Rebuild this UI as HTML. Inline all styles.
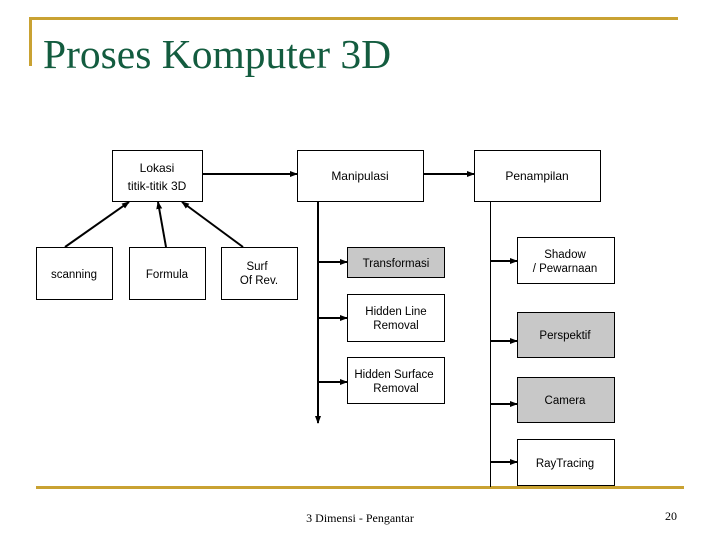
<!DOCTYPE html>
<html><head><meta charset="utf-8"><style>
body{margin:0;width:720px;height:540px;background:#fff;overflow:hidden;position:relative;font-family:"Liberation Sans",sans-serif}
.t{position:absolute;left:43px;top:30px;font-family:"Liberation Serif",serif;font-size:41.5px;color:#135c3f;white-space:nowrap}
</style></head><body>
<div style="position:absolute;left:29px;top:17px;width:649px;height:3px;background:#c9a232"></div>
<div style="position:absolute;left:29px;top:17px;width:3px;height:49px;background:#c9a232"></div>
<div style="position:absolute;left:36px;top:486px;width:648px;height:3px;background:#c9a232"></div>
<div class="t">Proses Komputer 3D</div>
<svg width="720" height="540" style="position:absolute;left:0;top:0" font-family="Liberation Sans, sans-serif" font-size="12" font-weight="bold" text-anchor="middle">
<defs><marker id="a" markerWidth="8" markerHeight="8" refX="7" refY="4" orient="auto" markerUnits="userSpaceOnUse"><path d="M0,1 L8,4 L0,7z" fill="#000"/></marker></defs>
<g fill="#fff" stroke="#000" stroke-width="1">
<rect x="112.5" y="150.5" width="90" height="51"/>
<rect x="297.5" y="150.5" width="126" height="51"/>
<rect x="474.5" y="150.5" width="126" height="51"/>
<rect x="36.5" y="247.5" width="76" height="52"/>
<rect x="129.5" y="247.5" width="76" height="52"/>
<rect x="221.5" y="247.5" width="76" height="52"/>
<rect x="347.5" y="247.5" width="97" height="30" fill="#c8c8c8"/>
<rect x="347.5" y="294.5" width="97" height="47"/>
<rect x="347.5" y="357.5" width="97" height="46"/>
<rect x="517.5" y="237.5" width="97" height="46"/>
<rect x="517.5" y="312.5" width="97" height="45" fill="#c8c8c8"/>
<rect x="517.5" y="377.5" width="97" height="45" fill="#c8c8c8"/>
<rect x="517.5" y="439.5" width="97" height="46"/>
</g>
<g stroke="#000" stroke-width="2" marker-end="url(#a)">
<line x1="203" y1="174" x2="297" y2="174"/>
<line x1="424" y1="174" x2="474" y2="174"/>
<line x1="65" y1="247" x2="129" y2="202"/>
<line x1="166" y1="247" x2="158" y2="202"/>
<line x1="243" y1="247" x2="182" y2="202"/>
<line x1="318" y1="201" x2="318" y2="423"/>
<line x1="318" y1="262" x2="347" y2="262"/>
<line x1="318" y1="318" x2="347" y2="318"/>
<line x1="318" y1="382" x2="347" y2="382"/>
<line x1="490" y1="261" x2="517" y2="261"/>
<line x1="490" y1="341" x2="517" y2="341"/>
<line x1="490" y1="404" x2="517" y2="404"/>
<line x1="490" y1="462" x2="517" y2="462"/>
</g>
<line x1="490.5" y1="201" x2="490.5" y2="487" stroke="#000" stroke-width="1"/>
<g fill="#000" font-weight="normal">
<text x="157" y="172">Lokasi</text><text x="157" y="190">titik-titik 3D</text>
<text x="360" y="180">Manipulasi</text>
<text x="537" y="180">Penampilan</text>
<text x="74" y="278" font-size="11.5">scanning</text>
<text x="167" y="278" font-size="11.5">Formula</text>
<text x="257" y="270" font-size="11.5">Surf</text><text x="259" y="284" font-size="11.5">Of Rev.</text>
<text x="396" y="267" font-size="11.5">Transformasi</text>
<text x="396" y="315" font-size="11.5">Hidden Line</text><text x="396" y="329" font-size="11.5">Removal</text>
<text x="394" y="378" font-size="11.5">Hidden Surface</text><text x="396" y="392" font-size="11.5">Removal</text>
<text x="565" y="258" font-size="11.5">Shadow</text><text x="565" y="272" font-size="11.5">/ Pewarnaan</text>
<text x="565" y="339" font-size="11.5">Perspektif</text>
<text x="565" y="404" font-size="11.5">Camera</text>
<text x="565" y="467" font-size="11.5">RayTracing</text>
<text x="360" y="522" font-family="Liberation Serif, serif" font-size="12">3 Dimensi - Pengantar</text>
<text x="671" y="520" font-family="Liberation Serif, serif" font-size="12">20</text>
</g>
</svg>
</body></html>
